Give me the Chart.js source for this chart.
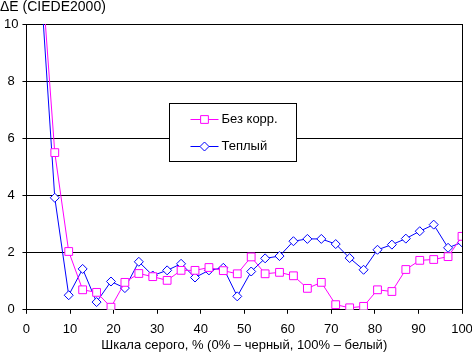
<!DOCTYPE html>
<html>
<head>
<meta charset="utf-8">
<script src="https://cdn.jsdelivr.net/npm/chart.js@4/dist/chart.umd.min.js"></script>
<style>
  html, body { margin: 0; padding: 0; background: #fff; }
  #wrap { width: 472px; height: 353px; position: relative; }
</style>
</head>
<body>
<div id="wrap"><canvas id="c" width="472" height="353"></canvas></div>
<script>
// ---- Data ----
const grayLevels = [3.2, 6.5, 9.7, 12.9, 16.1, 19.4, 22.6, 25.8, 29.0, 32.3, 35.5, 38.7, 41.9, 45.2, 48.4, 51.6, 54.8, 58.1, 61.3, 64.5, 67.7, 71.0, 74.2, 77.4, 80.6, 83.9, 87.1, 90.3, 93.5, 96.8, 100];
const noCorrection = [12.4, 5.5, 2.04, 0.70, 0.61, 0.09, 0.96, 1.27, 1.16, 1.03, 1.38, 1.38, 1.48, 1.37, 1.26, 1.85, 1.26, 1.31, 1.19, 0.75, 0.96, 0.18, 0.07, 0.12, 0.70, 0.64, 1.41, 1.73, 1.76, 1.86, 2.57];
const warm = [11.6, 3.92, 0.51, 1.43, 0.27, 0.99, 0.76, 1.68, 1.20, 1.38, 1.61, 1.13, 1.38, 1.47, 0.47, 1.34, 1.80, 1.88, 2.40, 2.48, 2.48, 2.30, 1.81, 1.40, 2.10, 2.28, 2.49, 2.75, 2.98, 2.17, 2.36];
const seriesNames = ['Без корр.', 'Теплый'];
const yTitle = 'ΔE (CIEDE2000)';
const xTitle = 'Шкала серого, % (0% – черный, 100% – белый)';

const FONT = '"Liberation Sans", Arial, sans-serif';
const toXY = (xs, ys) => xs.map((x, i) => ({ x: x, y: ys[i] }));

// Boxed legend drawn inside the plot area
const boxLegend = {
  id: 'boxLegend',
  afterDatasetsDraw(chart) {
    const ctx = chart.ctx;
    const a = chart.chartArea;
    const w = a.right - a.left, h = a.bottom - a.top;
    const bx = Math.round(a.left + w * 0.327) + 0.5;
    const by = Math.round(a.top + h * 0.276) + 0.5;
    const bw = 127, bh = 58;
    ctx.save();
    ctx.fillStyle = '#fff';
    ctx.strokeStyle = '#000';
    ctx.lineWidth = 1;
    ctx.fillRect(bx, by, bw, bh);
    ctx.strokeRect(bx, by, bw, bh);
    chart.data.datasets.forEach((ds, i) => {
      const cy = Math.round(by + 15 + i * 27.5) + 0.5;
      const x0 = bx + 21, x1 = bx + 49, cx = (x0 + x1) / 2;
      ctx.strokeStyle = ds.borderColor;
      ctx.lineWidth = 1;
      ctx.beginPath(); ctx.moveTo(x0, cy); ctx.lineTo(x1, cy); ctx.stroke();
      ctx.fillStyle = '#fff';
      ctx.beginPath();
      const r = ds.pointRadius;
      if (ds.pointStyle === 'rect') {
        const s = Math.SQRT1_2 * r;
        ctx.rect(cx - s, cy - s, 2 * s, 2 * s);
      } else {
        ctx.moveTo(cx - r, cy); ctx.lineTo(cx, cy - r); ctx.lineTo(cx + r, cy); ctx.lineTo(cx, cy + r); ctx.closePath();
      }
      ctx.fill(); ctx.stroke();
      ctx.fillStyle = '#000';
      ctx.font = '13px ' + FONT;
      ctx.textBaseline = 'middle';
      ctx.textAlign = 'left';
      ctx.fillText(ds.label, x1 + 3, cy);
    });
    ctx.restore();
  }
};

new Chart(document.getElementById('c'), {
  type: 'line',
  data: {
    datasets: [
      {
        label: seriesNames[0],
        data: toXY(grayLevels, noCorrection),
        borderColor: '#FF00FF',
        backgroundColor: '#FFFFFF',
        borderWidth: 1,
        pointStyle: 'rect',
        pointRadius: 5.5,
        pointBorderWidth: 1,
        pointBackgroundColor: '#FFFFFF',
        pointBorderColor: '#FF00FF',
        tension: 0
      },
      {
        label: seriesNames[1],
        data: toXY(grayLevels, warm),
        borderColor: '#0000FF',
        backgroundColor: '#FFFFFF',
        borderWidth: 1,
        pointStyle: 'rectRot',
        pointRadius: 4.5,
        pointBorderWidth: 1,
        pointBackgroundColor: '#FFFFFF',
        pointBorderColor: '#0000FF',
        tension: 0
      }
    ]
  },
  options: {
    responsive: false,
    animation: false,
    devicePixelRatio: 1,
    layout: { padding: 0 },
    plugins: {
      legend: { display: false },
      tooltip: { enabled: false },
      title: {
        display: true,
        text: yTitle,
        align: 'start',
        color: '#000',
        font: { family: FONT, size: 14, weight: 'normal', lineHeight: 1.0 },
        padding: { top: 0, bottom: 10 }
      }
    },
    scales: {
      x: {
        type: 'linear',
        min: 0,
        max: 100,
        border: { display: true, color: '#000', width: 1 },
        afterFit: (s) => { s.paddingRight = 10; },
        grid: {
          drawOnChartArea: true,
          color: (c) => (c.tick && c.tick.value === 100 ? '#000' : 'rgba(0,0,0,0)'),
          tickColor: '#000',
          tickLength: 4,
          lineWidth: 1
        },
        ticks: {
          stepSize: 10,
          color: '#000',
          padding: 8,
          maxRotation: 0,
          font: { family: FONT, size: 13 }
        },
        title: {
          display: true,
          text: xTitle,
          color: '#000',
          font: { family: FONT, size: 13 },
          padding: { top: -8, bottom: 0 }
        }
      },
      y: {
        min: 0,
        max: 10,
        border: { display: true, color: '#000', width: 1 },
        grid: {
          color: '#000',
          tickColor: '#000',
          tickLength: 4,
          lineWidth: 1
        },
        ticks: {
          stepSize: 2,
          color: '#000',
          padding: 4,
          crossAlign: 'center',
          font: { family: FONT, size: 13 }
        }
      }
    }
  },
  plugins: [boxLegend]
});
</script>
</body>
</html>
